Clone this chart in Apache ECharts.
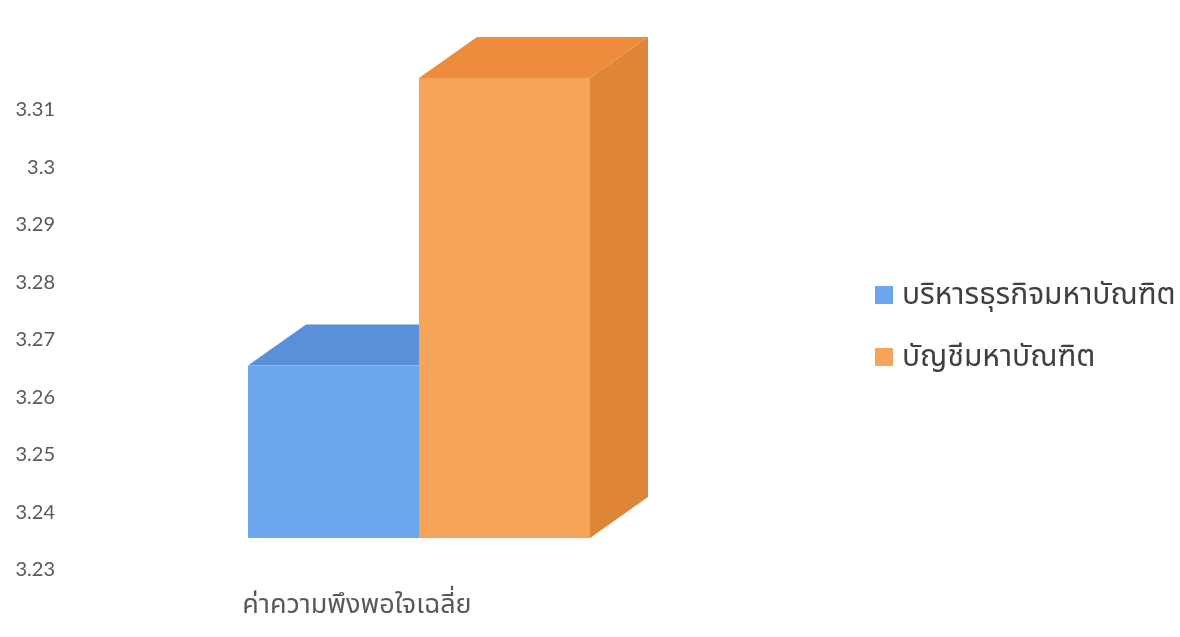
<!DOCTYPE html>
<html>
<head>
<meta charset="utf-8">
<script src="https://cdn.jsdelivr.net/npm/echarts@6/dist/echarts.min.js"></script>
<style>
html,body{margin:0;padding:0;background:#fff;}
#chart{width:1180px;height:637px;}
</style>
</head>
<body>
<div id="chart"></div>
<script>
// ---- data ----
var categories = ['ค่าความพึงพอใจเฉลี่ย'];
var seriesNames = ['บริหารธุรกิจมหาบัณฑิต', 'บัญชีมหาบัณฑิต'];
var valuesMBA = [3.26];
var valuesACC = [3.31];
var yMin = 3.23, yMax = 3.32, yStep = 0.01;

// ---- style ----
var palettes = [
  {front: '#6ca7ee', top: '#5a8fd9', side: '#4f80c8'},
  {front: '#f6a459', top: '#ee8c3d', side: '#df8537'}
];
var DEPTH_X = 58, DEPTH_Y = -41, FRONT_SHIFT = -32;
var BAR_W = 171;
var BAR_LEFT = [-109, 62]; // offsets from category centre

function makeRender(idx) {
  return function (params, api) {
    var c = api.value(0), v = api.value(1);
    var pTop = api.coord([c, v]);
    var pBase = api.coord([c, yMin]);
    var x0 = pTop[0] + BAR_LEFT[idx];
    var x1 = x0 + BAR_W;
    var yT = pTop[1] + FRONT_SHIFT;
    var yB = pBase[1] + FRONT_SHIFT;
    var pal = palettes[idx];
    return {
      type: 'group',
      children: [
        {type: 'polygon', shape: {points: [[x1, yT], [x1 + DEPTH_X, yT + DEPTH_Y], [x1 + DEPTH_X, yB + DEPTH_Y], [x1, yB]]}, style: {fill: pal.side}},
        {type: 'polygon', shape: {points: [[x0, yT], [x0 + DEPTH_X, yT + DEPTH_Y], [x1 + DEPTH_X, yT + DEPTH_Y], [x1, yT]]}, style: {fill: pal.top}},
        {type: 'rect', shape: {x: x0, y: yT, width: BAR_W, height: yB - yT}, style: {fill: pal.front}}
      ]
    };
  };
}

var chart = echarts.init(document.getElementById('chart'), null, {renderer: 'canvas'});
var thaiFont = "'Noto Sans', 'Noto Sans Thai', Tahoma, sans-serif";
chart.setOption({
  backgroundColor: '#ffffff',
  animation: false,
  grid: {left: 60, width: 594, top: 52.5, bottom: 67},
  legend: {
    orient: 'vertical', left: 870, top: 273,
    icon: 'rect', itemWidth: 18, itemHeight: 18, itemGap: 28,
    textStyle: {fontSize: 30, lineHeight: 34, color: '#404040', fontFamily: thaiFont, padding: [0, 0, 0, 4]},
    data: seriesNames
  },
  xAxis: {
    type: 'category', data: categories,
    axisLine: {show: false}, axisTick: {show: false},
    axisLabel: {fontSize: 27, color: '#595959', margin: 22, fontFamily: thaiFont}
  },
  yAxis: {
    type: 'value', min: yMin, max: yMax, interval: yStep,
    axisLine: {show: false}, axisTick: {show: false},
    splitLine: {show: false},
    axisLabel: {
      fontSize: 20, color: '#595959', margin: 5, fontFamily: 'Lato, sans-serif',
      formatter: function (v) { return Math.abs(v - yMax) < 1e-9 ? '' : String(+v.toFixed(2)); }
    }
  },
  series: [
    {name: seriesNames[0], type: 'custom', renderItem: makeRender(0), itemStyle: {color: palettes[0].front},
     data: valuesMBA.map(function (v, i) { return [i, v]; }), encode: {x: 0, y: 1}},
    {name: seriesNames[1], type: 'custom', renderItem: makeRender(1), itemStyle: {color: palettes[1].front},
     data: valuesACC.map(function (v, i) { return [i, v]; }), encode: {x: 0, y: 1}}
  ]
});
</script>
</body>
</html>
